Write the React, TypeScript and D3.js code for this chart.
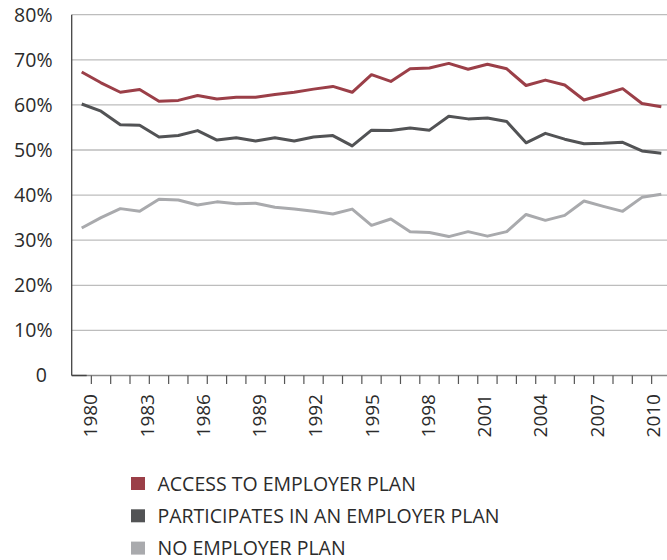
import React from "react";
import * as d3 from "d3";

const years: number[] = d3.range(1980, 2011);
const access: number[] = [67.3, 64.9, 62.8, 63.4, 60.8, 61.0, 62.1, 61.3, 61.7, 61.7, 62.3, 62.8, 63.5, 64.1, 62.8, 66.7, 65.2, 68.0, 68.2, 69.2, 67.9, 69.0, 68.0, 64.3, 65.5, 64.4, 61.1, 62.3, 63.6, 60.3, 59.6];
const participates: number[] = [60.2, 58.6, 55.6, 55.5, 52.9, 53.2, 54.3, 52.2, 52.7, 52.0, 52.7, 52.0, 52.9, 53.2, 50.9, 54.4, 54.3, 54.9, 54.4, 57.5, 56.9, 57.1, 56.3, 51.6, 53.7, 52.4, 51.4, 51.5, 51.7, 49.8, 49.3];
const noPlan: number[] = [32.7, 35.0, 37.0, 36.4, 39.1, 38.9, 37.8, 38.5, 38.1, 38.2, 37.3, 36.9, 36.4, 35.8, 36.9, 33.3, 34.7, 31.9, 31.7, 30.8, 31.9, 30.9, 31.9, 35.7, 34.4, 35.5, 38.7, 37.5, 36.4, 39.5, 40.2];
const yTicks: number[] = [0, 10, 20, 30, 40, 50, 60, 70, 80];
const labelYears: number[] = [1980, 1983, 1986, 1989, 1992, 1995, 1998, 2001, 2004, 2007, 2010];
const seriesNames: string[] = ["ACCESS TO EMPLOYER PLAN", "PARTICIPATES IN AN EMPLOYER PLAN", "NO EMPLOYER PLAN"];
const colors: string[] = ["#9b3f48", "#525355", "#a9aaad"];

const FONT = "'Open Sans', sans-serif";

export default function App() {
  const W = 667, H = 560;
  const x = d3.scaleLinear().domain([1980, 2010]).range([81.7, 661.3]);
  const xLabel = d3.scaleLinear().domain([1980, 2010]).range([90.7, 653.3]);
  const y = d3.scaleLinear().domain([0, 80]).range([375.5, 14.7]);
  const left = 71.7;
  const right = 667;
  const series = [access, participates, noPlan];
  const line = d3.line<number>().x((_, i) => x(years[i])).y((d) => y(d));
  const tickYears = d3.range(1980, 2010).map((v) => v + 0.5);

  return (
    <svg width={W} height={H} style={{ position: "absolute", left: 0, top: 0, background: "#fff" }} fontFamily={FONT}>
      {yTicks.filter((t) => t > 0).map((t) => (
        <line key={"g" + t} x1={left} x2={right} y1={y(t)} y2={y(t)} stroke="#bdbdbd" strokeWidth={1.3} />
      ))}
      {yTicks.map((t) => (
        <text key={"yl" + t} x={t === 0 ? 47 : 52.5} y={y(t)} dy="0.35em" textAnchor="end" fontSize={19.5} fill="#2b2b2b">
          {t === 0 ? "0" : t + "%"}
        </text>
      ))}
      <line x1={left} x2={right} y1={y(0)} y2={y(0)} stroke="#8a8a8a" strokeWidth={1.4} />
      <line x1={left} x2={left + 15} y1={y(0)} y2={y(0)} stroke="#444" strokeWidth={1.4} />
      <line x1={left} x2={left} y1={y(80)} y2={y(0)} stroke="#444" strokeWidth={1.3} />
      {tickYears.map((t) => (
        <line key={"t" + t} x1={x(t)} x2={x(t)} y1={y(0)} y2={y(0) + 8.5} stroke="#555" strokeWidth={1.2} />
      ))}
      {labelYears.map((yr) => (
        <text key={"xl" + yr} transform={`translate(${xLabel(yr)},394) rotate(-90)`} dy="0.35em" textAnchor="end" fontSize={19} fill="#2b2b2b">
          {yr}
        </text>
      ))}
      {series.map((s, k) => (
        <path key={"s" + k} d={line(s) || ""} fill="none" stroke={colors[k]} strokeWidth={3} strokeLinejoin="round" />
      ))}
      {seriesNames.map((n, k) => (
        <g key={"lg" + k} transform={`translate(131,${483.5 + k * 32.3})`}>
          <rect x={0} y={-6.5} width={14} height={13} fill={colors[k]} />
          <text x={26.5} y={0} dy="0.36em" fontSize={19.5} fill="#2b2b2b">{n}</text>
        </g>
      ))}
    </svg>
  );
}
